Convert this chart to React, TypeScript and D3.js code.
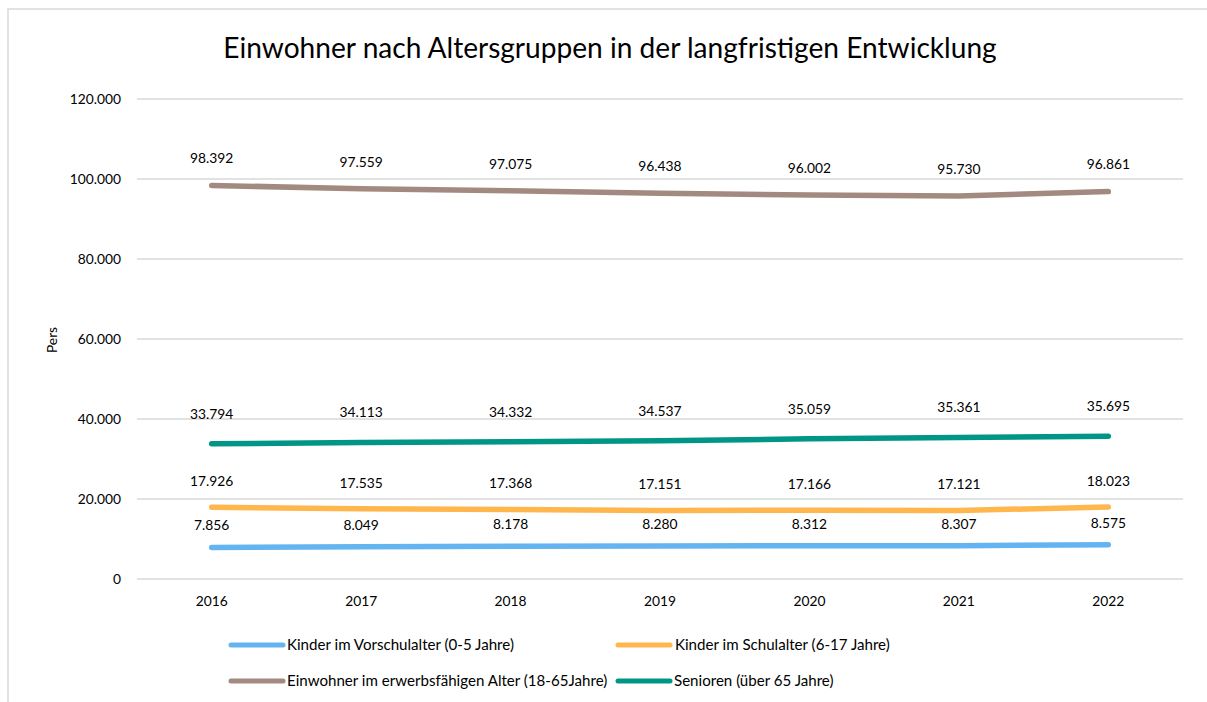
import React from "react";
import * as d3 from "d3";

const years = ["2016", "2017", "2018", "2019", "2020", "2021", "2022"];
const vorschule = [7856, 8049, 8178, 8280, 8312, 8307, 8575];
const schule = [17926, 17535, 17368, 17151, 17166, 17121, 18023];
const erwerb = [98392, 97559, 97075, 96438, 96002, 95730, 96861];
const senioren = [33794, 34113, 34332, 34537, 35059, 35361, 35695];
const yTicks = [0, 20000, 40000, 60000, 80000, 100000, 120000];

const title = "Einwohner nach Altersgruppen in der langfristigen Entwicklung";
const yTitle = "Pers";

const series = [
  { name: "Kinder im Vorschulalter (0-5 Jahre)", values: vorschule, color: "#65B4F2", labelDy: -22 },
  { name: "Kinder im Schulalter (6-17 Jahre)", values: schule, color: "#FFB74D", labelDy: -26 },
  { name: "Einwohner im erwerbsfähigen Alter (18-65Jahre)", values: erwerb, color: "#A38A80", labelDy: -27 },
  { name: "Senioren (über 65 Jahre)", values: senioren, color: "#009685", labelDy: -30 },
];

const FONT = "Lato, 'Open Sans', sans-serif";
const fmt = (v: number) => d3.format(",")(v).replace(/,/g, ".");

export default function App() {
  const W = 1207, H = 702;
  const left = 137, right = 1183, top = 99, bottom = 579;
  const x = d3.scaleBand<string>().domain(years).range([left, right]);
  const y = d3.scaleLinear().domain([0, 120000]).range([bottom, top]);
  const line = d3
    .line<number>()
    .x((_, i) => (x(years[i]) as number) + x.bandwidth() / 2)
    .y((d) => y(d));

  const legendPos = [
    { lx: 231, ty: 645, tx: 287 },
    { lx: 618, ty: 645, tx: 675 },
    { lx: 231, ty: 681, tx: 287 },
    { lx: 618, ty: 681, tx: 674 },
  ];

  return (
    <svg
      width={W}
      height={H}
      style={{ position: "absolute", left: 0, top: 0, background: "#fff" }}
      fontFamily={FONT}
    >
      <rect x={8} y={9} width={1250} height={760} fill="#fff" stroke="#d9d9d9" strokeWidth={1.5} />
      <text x={610} y={58} textAnchor="middle" fontSize={28.1} fill="#000">
        {title}
      </text>
      {yTicks.map((t) => (
        <g key={t}>
          <line x1={left} x2={right} y1={y(t)} y2={y(t)} stroke="#d9d9d9" strokeWidth={1.3} />
          <text x={121} y={y(t)} dy="0.35em" textAnchor="end" fontSize={13.8} fill="#000">
            {fmt(t)}
          </text>
        </g>
      ))}
      {years.map((yr) => (
        <text
          key={yr}
          x={(x(yr) as number) + x.bandwidth() / 2}
          y={601}
          dy="0.35em"
          textAnchor="middle"
          fontSize={13.8}
          fill="#000"
        >
          {yr}
        </text>
      ))}
      <text
        transform={`translate(57,340) rotate(-90)`}
        textAnchor="middle"
        fontSize={13.8}
        fill="#000"
      >
        {yTitle}
      </text>
      {series.map((s) => (
        <path
          key={s.name}
          d={line(s.values) || ""}
          fill="none"
          stroke={s.color}
          strokeWidth={5.5}
          strokeLinecap="round"
          strokeLinejoin="round"
        />
      ))}
      {series.map((s) =>
        s.values.map((v, i) => (
          <text
            key={s.name + i}
            x={(x(years[i]) as number) + x.bandwidth() / 2}
            y={y(v) + s.labelDy}
            dy="0.35em"
            textAnchor="middle"
            fontSize={13.8}
            fill="#000"
          >
            {fmt(v)}
          </text>
        ))
      )}
      {series.map((s, i) => {
        const p = legendPos[i];
        return (
          <g key={s.name}>
            <line
              x1={p.lx}
              x2={p.lx + 52}
              y1={p.ty}
              y2={p.ty}
              stroke={s.color}
              strokeWidth={5}
              strokeLinecap="round"
            />
            <text x={p.tx} y={p.ty} dy="0.35em" fontSize={15.1} fill="#000">
              {s.name}
            </text>
          </g>
        );
      })}
    </svg>
  );
}
